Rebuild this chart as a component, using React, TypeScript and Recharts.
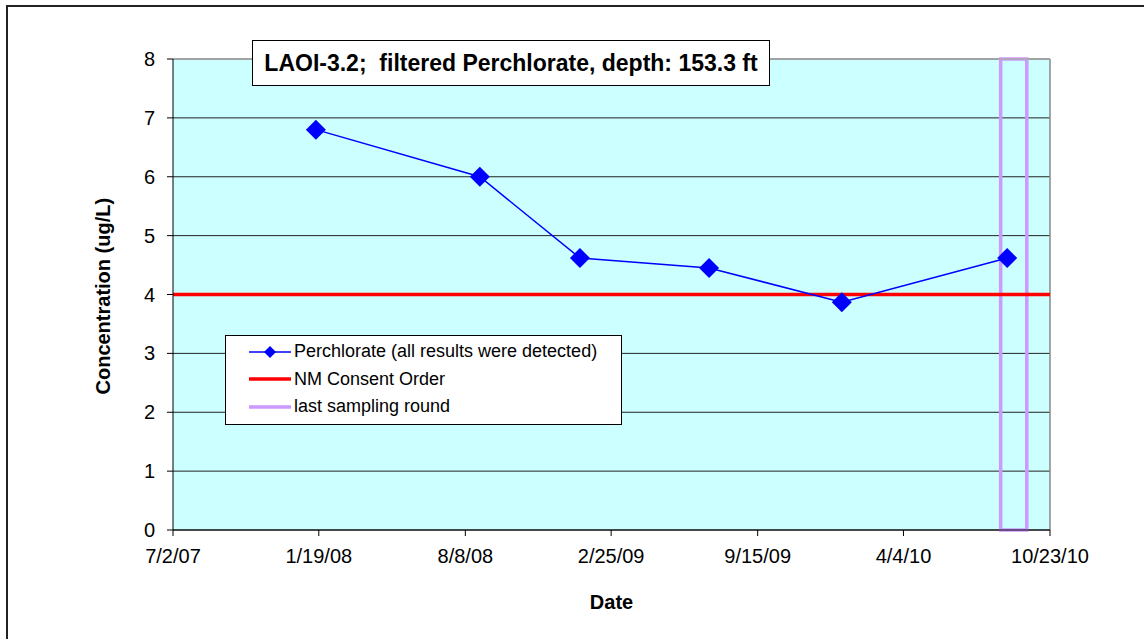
import React from 'react'
import {
  LineChart, Line, XAxis, YAxis, CartesianGrid, ReferenceLine, ReferenceArea
} from 'recharts'

// sample dates and results (ug/L)
const sampleDates = ['1/15/08', '8/28/08', '1/13/09', '7/10/09', '1/9/10', '8/25/10']
const perchlorate = [6.8, 6.0, 4.62, 4.45, 3.87, 4.62]

const tickDates = ['7/2/07', '1/19/08', '8/8/08', '2/25/09', '9/15/09', '4/4/10', '10/23/10']
const yTicks = [0, 1, 2, 3, 4, 5, 6, 7, 8]

const consentLimit = 4
const lastRound = ['8/16/10', '9/21/10']

const FONT = 'Arial, "Liberation Sans", sans-serif'

const toDays = (s: string) => {
  const [m, d, y] = s.split('/').map(Number)
  return Math.round((Date.UTC(2000 + y, m - 1, d) - Date.UTC(2007, 6, 2)) / 86400000)
}

const tickDays = tickDates.map(toDays)
const data = sampleDates.map((d, i) => ({ day: toDays(d), value: perchlorate[i] }))

const Diamond = (props: any) => {
  const { cx, cy } = props
  if (cx == null || cy == null) return null
  const r = 10
  return <polygon points={`${cx},${cy - r} ${cx + r},${cy} ${cx},${cy + r} ${cx - r},${cy}`} fill="#0000FF" />
}

const rowStyle = { display: 'flex', alignItems: 'center', height: 27.5 }

const LegendBox = () => (
  <div style={{
    position: 'absolute', left: 225, top: 335, width: 397, height: 90, background: '#fff',
    border: '1px solid #000', fontFamily: FONT, fontSize: 18, color: '#000',
    boxSizing: 'border-box', paddingTop: 2
  }}>
    <div style={rowStyle}>
      <svg width={68} height={20}>
        <line x1={23} x2={65} y1={10} y2={10} stroke="#0000FF" strokeWidth={1.5} />
        <polygon points="44,4 50,10 44,16 38,10" fill="#0000FF" />
      </svg>
      <span>Perchlorate (all results were detected)</span>
    </div>
    <div style={rowStyle}>
      <svg width={68} height={20}>
        <line x1={23} x2={65} y1={10} y2={10} stroke="#FF0000" strokeWidth={3.5} />
      </svg>
      <span>NM Consent Order</span>
    </div>
    <div style={rowStyle}>
      <svg width={68} height={20}>
        <line x1={23} x2={65} y1={10} y2={10} stroke="#CC99FF" strokeWidth={3.5} />
      </svg>
      <span>last sampling round</span>
    </div>
  </div>
)

export default function App() {
  return (
    <div style={{ position: 'absolute', left: 0, top: 0, width: 1144, height: 639, background: '#fff', fontFamily: FONT, overflow: 'hidden' }}>
      <div style={{ position: 'absolute', left: 6, top: 5, width: 1160, height: 660, borderLeft: '2px solid #222', borderTop: '2px solid #222' }} />
      <LineChart width={1144} height={639} data={data} margin={{ top: 59, right: 94, bottom: 69, left: 113 }}>
        <CartesianGrid fill="#CCFFFF" stroke="#222" vertical={false} />
        <XAxis
          dataKey="day"
          type="number"
          domain={[0, tickDays[tickDays.length - 1]]}
          ticks={tickDays}
          tickFormatter={(v: number) => tickDates[tickDays.indexOf(v)] ?? ''}
          tick={{ fill: '#000', fontSize: 20, fontFamily: FONT }}
          stroke="#000"
          tickSize={6}
          tickMargin={13}
          height={40}
          interval={0}
          label={{ value: 'Date', position: 'insideBottom', offset: -39, fill: '#000', fontSize: 20, fontWeight: 'bold', fontFamily: FONT }}
        />
        <YAxis
          type="number"
          domain={[0, 8]}
          ticks={yTicks}
          tick={{ fill: '#000', fontSize: 20, fontFamily: FONT }}
          stroke="#000"
          tickSize={6}
          tickMargin={12}
          width={60}
          interval={0}
          label={{ value: 'Concentration (ug/L)', angle: -90, position: 'insideLeft', offset: -10, dy: 100, fill: '#000', fontSize: 20, fontWeight: 'bold', fontFamily: FONT }}
        />
        <ReferenceLine x={tickDays[tickDays.length - 1]} stroke="#888" strokeWidth={1.5} />
        <ReferenceLine y={8} stroke="#aaa" strokeWidth={1.5} />
        <ReferenceLine y={consentLimit} stroke="#FF0000" strokeWidth={3.5} />
        <ReferenceArea x1={toDays(lastRound[0])} x2={toDays(lastRound[1])} y1={0} y2={8} fill="none" stroke="#CC99FF" strokeWidth={3.5} fillOpacity={0} />
        <Line
          type="linear"
          dataKey="value"
          stroke="#0000FF"
          strokeWidth={1.5}
          dot={<Diamond />}
          activeDot={false}
          isAnimationActive={false}
        />
      </LineChart>
      <LegendBox />
      <div style={{
        position: 'absolute', left: 252, top: 40, width: 518, height: 46, background: '#fff',
        border: '1px solid #000', boxSizing: 'border-box', display: 'flex', alignItems: 'center',
        justifyContent: 'center', fontSize: 23, fontWeight: 'bold', color: '#000', whiteSpace: 'pre'
      }}>
        {'LAOI-3.2;  filtered Perchlorate, depth: 153.3 ft'}
      </div>
    </div>
  )
}
